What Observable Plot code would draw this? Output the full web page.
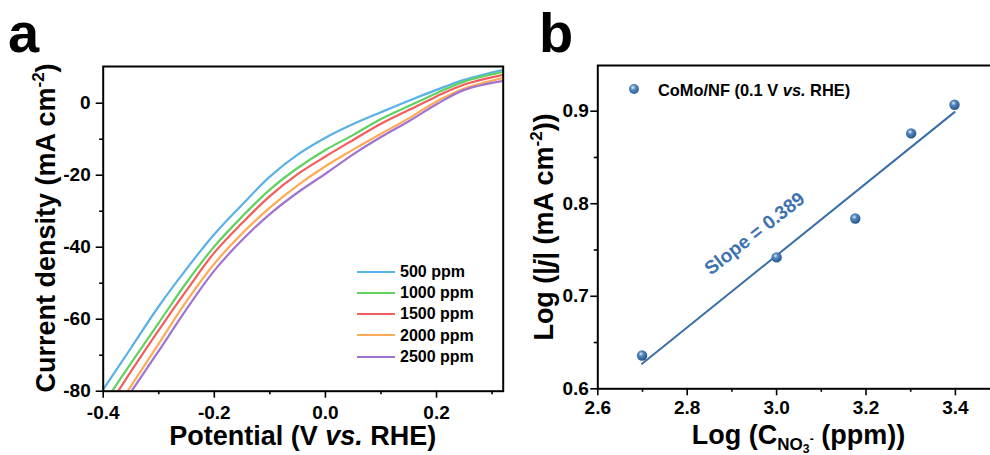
<!DOCTYPE html>
<html>
<head>
<meta charset="utf-8">
<script src="https://cdn.jsdelivr.net/npm/d3@7"></script>
<script src="https://cdn.jsdelivr.net/npm/@observablehq/plot@0.6"></script>
<style>
  html, body { margin: 0; padding: 0; background: #fff; }
  #wrap { position: relative; width: 990px; height: 455px; overflow: hidden; background: #fff;
          font-family: "Liberation Sans", Arial, sans-serif; font-weight: bold; color: #000; }
  .abs { position: absolute; white-space: nowrap; }
  .title { font-size: 27px; line-height: 27px; }
  .sup { position: relative; font-size: 0.63em; top: -0.62em; line-height: 0; }
  .sub { position: relative; font-size: 0.63em; top: 0.34em; line-height: 0; }
  .sub2 { position: relative; font-size: 0.72em; top: 0.25em; line-height: 0; }
  .sup2 { position: relative; font-size: 0.72em; top: -0.6em; line-height: 0; }
  .letter { font-size: 56px; line-height: 56px; }
  .leg { font-size: 16px; line-height: 16px; }
  .legb { font-size: 16.4px; line-height: 16px; }
</style>
</head>
<body>
<div id="wrap"></div>
<script>
// ---------- Panel a data: LSV curves ----------
const seriesNames = ["500 ppm", "1000 ppm", "1500 ppm", "2000 ppm", "2500 ppm"];
const seriesColors = ["#5ab1e8", "#5fd25f", "#f55d5d", "#ffab55", "#a073d3"];

const potential500 = [-0.400, -0.35, -0.30, -0.25, -0.20, -0.15, -0.10, -0.05, 0.00, 0.05, 0.10, 0.15, 0.20, 0.25, 0.32];
const current500   = [-79.5, -68.0, -56.4, -46.0, -36.4, -28.2, -20.4, -14.3, -9.6, -5.8, -2.5, 0.7, 3.7, 6.5, 9.3];

const potential1000 = [-0.384, -0.35, -0.30, -0.25, -0.20, -0.15, -0.10, -0.05, 0.00, 0.05, 0.10, 0.15, 0.20, 0.25, 0.32];
const current1000   = [-80.0, -72.2, -61.0, -49.8, -39.8, -31.5, -24.0, -18.0, -13.0, -8.8, -4.4, -0.8, 2.8, 6.0, 8.7];

const potential1500 = [-0.373, -0.35, -0.30, -0.25, -0.20, -0.15, -0.10, -0.05, 0.00, 0.05, 0.10, 0.15, 0.20, 0.25, 0.32];
const current1500   = [-80.0, -74.5, -63.0, -52.0, -41.5, -33.3, -25.8, -19.7, -14.8, -10.2, -5.7, -1.9, 1.9, 5.2, 7.9];

const potential2000 = [-0.356, -0.30, -0.25, -0.20, -0.15, -0.10, -0.05, 0.00, 0.05, 0.10, 0.15, 0.20, 0.25, 0.32];
const current2000   = [-80.0, -66.8, -55.0, -44.6, -36.2, -29.0, -22.8, -17.5, -12.9, -8.5, -4.2, 0.5, 4.1, 7.0];

const potential2500 = [-0.349, -0.30, -0.25, -0.20, -0.15, -0.10, -0.05, 0.00, 0.05, 0.10, 0.15, 0.20, 0.25, 0.32];
const current2500   = [-80.0, -68.8, -57.2, -46.5, -38.0, -30.8, -24.8, -19.6, -14.2, -9.4, -5.0, -0.3, 3.7, 6.2];

const xTicksA = [-0.4, -0.2, 0.0, 0.2];
const xMinorA = [-0.3, -0.1, 0.1, 0.3];
const yTicksA = [-80, -60, -40, -20, 0];
const yMinorA = [-70, -50, -30, -10];

// ---------- Panel b data: log-log fit ----------
const logC = [2.699, 3.000, 3.176, 3.301, 3.398];
const logJ = [0.636, 0.742, 0.784, 0.876, 0.907];
const fitX = [2.699, 3.398];
const fitY = [0.627, 0.899];
const slopeLabel = {x: 2.951, y: 0.7676, text: "Slope = 0.389"};

const xTicksB = [2.6, 2.8, 3.0, 3.2, 3.4];
const xMinorB = [2.7, 2.9, 3.1, 3.3];
const yTicksB = [0.6, 0.7, 0.8, 0.9];
const yMinorB = [0.65, 0.75, 0.85];

// ---------- Build ----------
const wrap = document.getElementById("wrap");
const hyph = d => (d < 0 ? "-" : "") + Math.abs(d).toFixed(1);
const hyphInt = d => (d < 0 ? "-" : "") + Math.abs(d);
const baseStyle = {fontFamily: "'Liberation Sans', Arial, sans-serif", fontSize: "19px", fontWeight: "bold", color: "#000", background: "transparent", overflow: "visible"};

const pv = [potential500, potential1000, potential1500, potential2000, potential2500];
const cj = [current500, current1000, current1500, current2000, current2500];
const rows = seriesNames.flatMap((name, k) => pv[k].map((v, i) => ({series: name, v, j: cj[k][i]})));

const plotA = Plot.plot({
  width: 505, height: 455,
  marginLeft: 102.7, marginRight: 2.3, marginTop: 66, marginBottom: 64.3,
  style: baseStyle,
  x: {domain: [-0.4, 0.32]},
  y: {domain: [-80, 10.2]},
  color: {domain: seriesNames, range: seriesColors},
  marks: [
    Plot.line(rows, {x: "v", y: "j", z: "series", stroke: "series", strokeWidth: 2.2, curve: "catmull-rom", clip: true}),
    Plot.axisX({ticks: xTicksA, tickSize: 7, tickPadding: 7, tickFormat: hyph, strokeWidth: 1.6, label: null}),
    Plot.axisX({ticks: xMinorA, tickSize: 3.5, tickFormat: () => "", strokeWidth: 1.6, label: null}),
    Plot.axisY({ticks: yTicksA, tickSize: 7, tickPadding: 5.5, tickFormat: hyphInt, strokeWidth: 1.6, label: null}),
    Plot.axisY({ticks: yMinorA, tickSize: 3.5, tickFormat: () => "", strokeWidth: 1.6, label: null}),
    Plot.frame({stroke: "#000", strokeWidth: 2})
  ]
});
plotA.style.position = "absolute"; plotA.style.left = "0px"; plotA.style.top = "0px";
wrap.appendChild(plotA);

const pts = logC.map((x, i) => ({x, y: logJ[i]}));
const fit = fitX.map((x, i) => ({x, y: fitY[i]}));
const blue = "#3a6ea8";

const plotB = Plot.plot({
  width: 500, height: 455,
  marginLeft: 97.3, marginRight: 0.4, marginTop: 65, marginBottom: 66.7,
  style: baseStyle,
  x: {domain: [2.6, 3.5]},
  y: {domain: [0.6, 0.9494]},
  marks: [
    Plot.line(fit, {x: "x", y: "y", stroke: blue, strokeWidth: 2}),
    Plot.dot(pts, {x: "x", y: "y", r: 5.2, fill: "url(#ball)", stroke: "none"}),
    Plot.text([slopeLabel], {x: "x", y: "y", text: "text", rotate: -38, fill: "#3d72ae", fontSize: 19, fontWeight: "bold"}),
    Plot.axisX({ticks: xTicksB, tickSize: 7, tickPadding: 5, tickFormat: d => d.toFixed(1), strokeWidth: 1.6, label: null}),
    Plot.axisX({ticks: xMinorB, tickSize: 3.5, tickFormat: () => "", strokeWidth: 1.6, label: null}),
    Plot.axisY({ticks: yTicksB, tickSize: 7, tickPadding: 2, tickFormat: d => d.toFixed(1), strokeWidth: 1.6, label: null}),
    Plot.axisY({ticks: yMinorB, tickSize: 3.5, tickFormat: () => "", strokeWidth: 1.6, label: null}),
    Plot.frame({stroke: "#000", strokeWidth: 2})
  ]
});
d3.select(plotB).insert("defs", ":first-child").html(
  '<radialGradient id="ball" cx="0.4" cy="0.35" r="0.75">' +
  '<stop offset="0" stop-color="#e4eef9"/><stop offset="0.3" stop-color="#5487c0"/>' +
  '<stop offset="0.75" stop-color="#2f5f96"/><stop offset="1" stop-color="#1d446f"/></radialGradient>');
plotB.style.position = "absolute"; plotB.style.left = "500px"; plotB.style.top = "0px";
wrap.appendChild(plotB);

// ---------- Text overlays (titles, letters, legends) ----------
function addDiv(cls, html, css) {
  const d = document.createElement("div");
  d.className = "abs " + cls;
  d.innerHTML = html;
  Object.assign(d.style, css);
  wrap.appendChild(d);
  return d;
}
// panel letters
addDiv("letter", "a", {left: "8px", top: (52 - 0.8465 * 56) + "px"});
addDiv("letter", "b", {left: "539px", top: (52 - 0.8465 * 56) + "px"});

// axis titles
addDiv("title", 'Potential (V <i>vs.</i> RHE)', {left: "302.7px", top: (446 - 22.9) + "px", transform: "translateX(-50%)"});
addDiv("title", 'Current density (mA cm<span class="sup">-2</span>)', {left: "45.6px", top: "228.3px", transform: "translate(-50%,-50%) rotate(-90deg)"});
addDiv("title", 'Log (C<span class="sub">NO<span class="sub2">3</span><span class="sup2">-</span></span> (ppm))', {left: "798.5px", top: (445 - 22.9) + "px", transform: "translateX(-50%)"});
addDiv("title", 'Log (|<i>j</i>| (mA cm<span class="sup">-2</span>))', {left: "543.6px", top: "226.7px", transform: "translate(-50%,-50%) rotate(-90deg)"});

// legend a
const legRowsA = [271.7, 292.7, 314, 335.3, 356.7];
seriesNames.forEach((name, i) => {
  const y = legRowsA[i];
  const ln = document.createElement("div");
  Object.assign(ln.style, {position: "absolute", left: "357px", top: (y - 1.2) + "px", width: "38px", height: "2.4px", background: seriesColors[i]});
  wrap.appendChild(ln);
  addDiv("leg", name, {left: "400px", top: (y + 5.7 - 13.5) + "px"});
});

// legend b
const dotB = document.createElement("div");
Object.assign(dotB.style, {position: "absolute", left: "629.1px", top: "83.8px", width: "10.4px", height: "10.4px", borderRadius: "50%",
  background: "radial-gradient(circle at 40% 35%, #e4eef9 0%, #5487c0 30%, #2f5f96 75%, #1d446f 100%)"});
wrap.appendChild(dotB);
addDiv("legb", 'CoMo/NF (0.1 V <i>vs.</i> RHE)', {left: "658px", top: (95 - 13.5) + "px"});
</script>
</body>
</html>
